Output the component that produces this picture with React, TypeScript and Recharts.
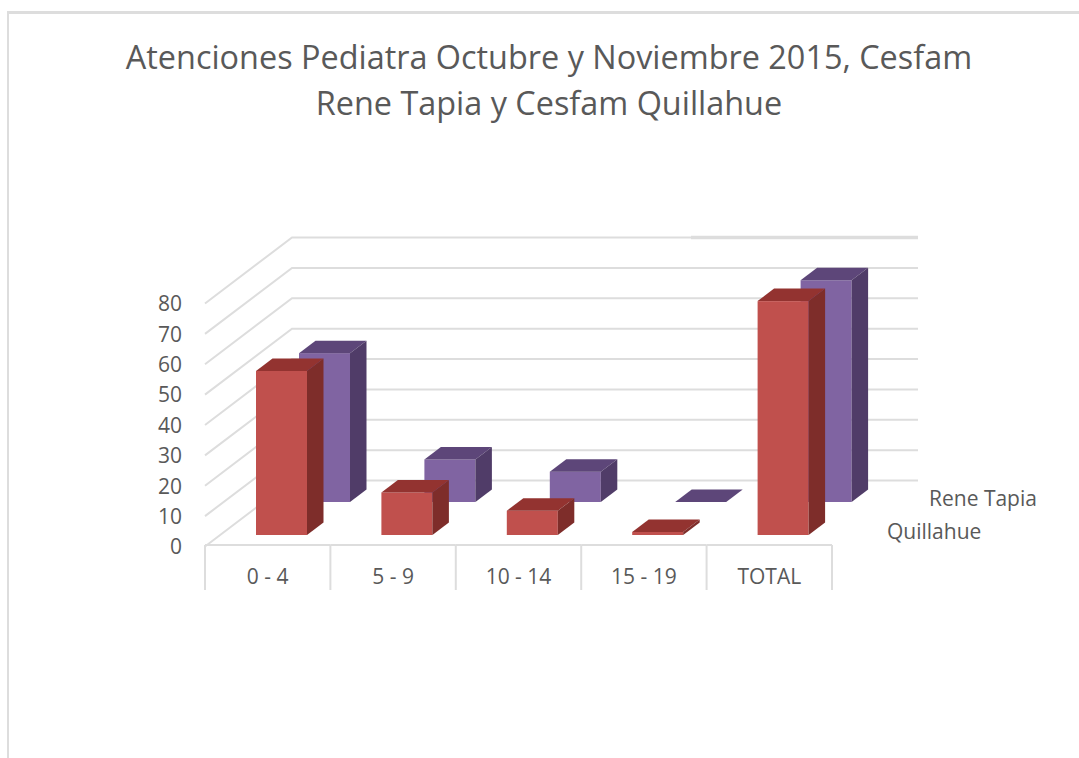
import React from 'react';
import { BarChart, Bar, XAxis, YAxis, ReferenceLine } from 'recharts';

const categories = ['0 - 4', '5 - 9', '10 - 14', '15 - 19', 'TOTAL'];
const quillahue = [54, 14, 8, 1, 77];
const reneTapia = [49, 14, 10, 0, 73];
const yTicks = [0, 10, 20, 30, 40, 50, 60, 70, 80];

const rows = categories.map((name, i) => ({ name, quillahue: quillahue[i], reneTapia: reneTapia[i] }));

const DEPTH_X = 16.5;
const DEPTH_Y = 12.5;
const TEXT = '#595959';
const GRID = '#dddddd';
const FONT = '"Open Sans", sans-serif';

// 3D box, dx/dy push the series back along the depth axis
const box = (front: string, top: string, side: string, dx: number, dy: number) => (props: any) => {
  const x = props.x + dx;
  const y = props.y + dy;
  const w = props.width;
  const h = props.height;
  return (
    <g>
      <rect x={x} y={y} width={w} height={h} fill={front} />
      <polygon
        points={`${x},${y} ${x + DEPTH_X},${y - DEPTH_Y} ${x + w + DEPTH_X},${y - DEPTH_Y} ${x + w},${y}`}
        fill={top}
      />
      <polygon
        points={`${x + w},${y} ${x + w + DEPTH_X},${y - DEPTH_Y} ${x + w + DEPTH_X},${y + h - DEPTH_Y} ${x + w},${y + h}`}
        fill={side}
      />
    </g>
  );
};

const RedBox = box('#c0504d', '#933330', '#7e2d2a', 14, 0);
const PurpleBox = box('#8064a2', '#5d4679', '#503c68', 57, -33);

// side wall and back wall for one gridline
const WallLine = (props: any) => {
  const y = props.y1 - 54.5;
  return (
    <g>
      <polyline points={`205,${y + 66} 292,${y} 918,${y}`} fill="none" stroke={GRID} strokeWidth={2} />
      {/* top line is heavier on its right part */}
      {y < 240 && <line x1={691} y1={y} x2={918} y2={y} stroke={GRID} strokeWidth={3.5} />}
    </g>
  );
};

const YTick = (props: any) => (
  <text x={props.x - 15} y={props.y + 12} dy="0.35em" textAnchor="end" fontSize={21} fontFamily={FONT} fill={TEXT}>
    {props.payload.value}
  </text>
);

const XTick = (props: any) => {
  const band = 125.4;
  const left = props.x - band / 2;
  const last = props.payload.value === 'TOTAL';
  return (
    <g>
      <line x1={left} y1={545} x2={left + band} y2={545} stroke={GRID} strokeWidth={2} />
      <line x1={left} y1={545} x2={left} y2={590} stroke={GRID} strokeWidth={2} />
      {last && <line x1={left + band} y1={545} x2={left + band} y2={590} stroke={GRID} strokeWidth={2} />}
      <text x={props.x} y={584} textAnchor="middle" fontSize={21} fontFamily={FONT} fill={TEXT}>
        {props.payload.value}
      </text>
    </g>
  );
};

export default function App() {
  return (
    <div style={{ position: 'absolute', left: 0, top: 0, width: 1079, height: 758, background: '#fff', overflow: 'hidden' }}>
      {/* frame runs off the right and bottom of the page */}
      <div style={{ position: 'absolute', left: 7, top: 11, width: 1100, height: 800, borderTop: `3px solid ${GRID}`, borderLeft: `2px solid ${GRID}`, boxSizing: 'border-box' }} />
      <div
        style={{
          position: 'absolute',
          left: 0,
          width: 1098,
          top: 33,
          textAlign: 'center',
          fontFamily: FONT,
          fontSize: 32.4,
          lineHeight: '46px',
          color: TEXT,
        }}
      >
        Atenciones Pediatra Octubre y Noviembre 2015, Cesfam
        <br />
        Rene Tapia y Cesfam Quillahue
      </div>
      <div style={{ position: 'absolute' }}>
        <BarChart
          width={1079}
          height={758}
          data={rows}
          margin={{ top: 292, right: 247, bottom: 150, left: 145 }}
          barSize={51}
          barGap={-51}
        >
          <XAxis dataKey="name" axisLine={false} tickLine={false} height={73} tick={XTick} interval={0} />
          <YAxis width={60} domain={[0, 80]} ticks={yTicks} axisLine={false} tickLine={false} tick={YTick} interval={0} />
          {yTicks.map((v) => (
            <ReferenceLine key={v} y={v} shape={WallLine} ifOverflow="visible" zIndex={0} />
          ))}
          <Bar dataKey="reneTapia" shape={PurpleBox} isAnimationActive={false} />
          <Bar dataKey="quillahue" shape={RedBox} isAnimationActive={false} />
        </BarChart>
      </div>
      <div style={{ position: 'absolute', left: 929, top: 486, fontFamily: FONT, fontSize: 21, lineHeight: '24px', color: TEXT }}>Rene Tapia</div>
      <div style={{ position: 'absolute', left: 887, top: 519, fontFamily: FONT, fontSize: 21, lineHeight: '24px', color: TEXT }}>Quillahue</div>
    </div>
  );
}
